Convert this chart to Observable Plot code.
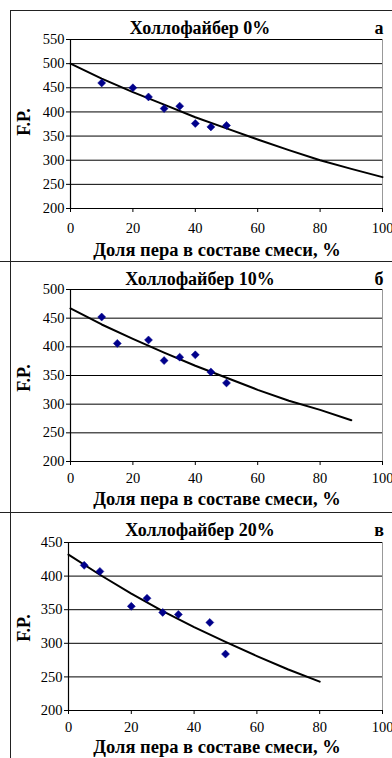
<!DOCTYPE html>
<html>
<head>
<meta charset="utf-8">
<script src="https://cdn.jsdelivr.net/npm/d3@7"></script>
<script src="https://cdn.jsdelivr.net/npm/@observablehq/plot@0.6"></script>
<style>
  html, body { margin: 0; padding: 0; background: #fff; }
  body { width: 392px; height: 758px; position: relative; overflow: hidden; font-family: "Liberation Serif", Tinos, "Times New Roman", Times, "DejaVu Serif", serif; }
  .abs { position: absolute; line-height: 1; }
  .title { font-weight: bold; font-size: 18px; white-space: nowrap; transform: translate(-50%, -50%); }
  .letter { font-weight: bold; font-size: 18px; transform: translate(-50%, -50%); }
  .xlab { font-weight: bold; font-size: 18.5px; white-space: nowrap; transform: translate(-50%, -50%); }
  .ylab { font-weight: bold; font-size: 18px; white-space: nowrap; transform: translate(-50%, -50%) rotate(-90deg); }
  .hline { position: absolute; left: 0; width: 392px; height: 0; border-top: 1.5px solid #222; }
  .vline { position: absolute; width: 0; border-left: 1.5px solid #222; }
  svg { position: absolute; left: 0; }
  svg text { font-family: "Liberation Serif", Tinos, "Times New Roman", Times, "DejaVu Serif", serif; }
</style>
</head>
<body>
<script>
// Panel titles and letters
const panelTitles = ["Холлофайбер 0%", "Холлофайбер 10%", "Холлофайбер 20%"];
const panelLetters = ["а", "б", "в"];
const xTitle = "Доля пера в составе смеси, %";
const yTitle = "F.P.";

// X ticks (shared)
const xTicks = [0, 20, 40, 60, 80, 100];

// Panel а (0%)
const yTicksA = [200, 250, 300, 350, 400, 450, 500, 550];
const pointsXA = [10, 20, 25, 30, 35, 40, 45, 50];
const pointsYA = [460, 450, 431, 407, 412, 376, 369, 372];
const trendXA = [0, 10, 20, 30, 40, 50, 60, 70, 80, 90, 100];
const trendYA = [500, 469, 441, 415, 389, 366, 343, 321, 300, 282, 265];

// Panel б (10%)
const yTicksB = [200, 250, 300, 350, 400, 450, 500];
const pointsXB = [10, 15, 25, 30, 35, 40, 45, 50];
const pointsYB = [452, 406, 412, 376, 382, 386, 356, 337];
const trendXB = [0, 10, 20, 30, 40, 50, 60, 70, 80, 90];
const trendYB = [467, 439, 414, 390, 367, 346, 325, 306, 290, 272];

// Panel в (20%)
const yTicksC = [200, 250, 300, 350, 400, 450];
const pointsXC = [5, 10, 20, 25, 30, 35, 45, 50];
const pointsYC = [416, 407, 355, 367, 346, 343, 331, 284];
const trendXC = [0, 10, 20, 30, 40, 50, 60, 70, 80];
const trendYC = [432, 402, 374, 348, 324, 302, 281, 261, 243];

const FONT = "'Liberation Serif', Tinos, 'Times New Roman', Times, 'DejaVu Serif', serif";

const panels = [
  { top: 0,   height: 261, mt: 39, mb: 53, ml: 70, yTicks: yTicksA, px: pointsXA, py: pointsYA, tx: trendXA, ty: trendYA,
    titleY: 28, xlabY: 250, ylabY: 122, pad: 10 },
  { top: 261, height: 251, mt: 28, mb: 51, ml: 70, yTicks: yTicksB, px: pointsXB, py: pointsYB, tx: trendXB, ty: trendYB,
    titleY: 279, xlabY: 499, ylabY: 378, pad: 7 },
  { top: 512, height: 246, mt: 30, mb: 48, ml: 68, yTicks: yTicksC, px: pointsXC, py: pointsYC, tx: trendXC, ty: trendYC,
    titleY: 530, xlabY: 747, ylabY: 628, pad: 7 }
];

panels.forEach((p, i) => {
  const pts = p.px.map((x, k) => ({ x, y: p.py[k] }));
  const trend = p.tx.map((x, k) => ({ x, y: p.ty[k] }));
  const yMin = p.yTicks[0], yMax = p.yTicks[p.yTicks.length - 1];
  const chart = Plot.plot({
    width: 392,
    height: p.height,
    marginLeft: p.ml,
    marginRight: 10,
    marginTop: p.mt,
    marginBottom: p.mb,
    style: { fontFamily: FONT, fontSize: "14.5px", color: "#000", background: "transparent", overflow: "visible" },
    x: { domain: [0, 100], label: null },
    y: { domain: [yMin, yMax], label: null },
    marks: [
      Plot.frame({ stroke: "#999", strokeWidth: 1 }),
      Plot.gridY(p.yTicks.filter(t => t > yMin), { stroke: "#000", strokeOpacity: 1, strokeWidth: 1 }),
      Plot.axisY(p.yTicks, { tickSize: 4, tickPadding: 2, label: null, fontSize: 14.5 }),
      Plot.axisX(xTicks, { tickSize: 4, tickPadding: p.pad, label: null, fontSize: 14.5 }),
      Plot.ruleX([0], { stroke: "#000", strokeWidth: 1.2 }),
      Plot.ruleY([yMin], { stroke: "#000", strokeWidth: 1.2 }),
      Plot.line(trend, { x: "x", y: "y", stroke: "#000", strokeWidth: 2 }),
      Plot.dot(pts, { x: "x", y: "y", symbol: "diamond2", fill: "#00008b", stroke: "#00008b", strokeWidth: 0.5, r: 3.6 })
    ]
  });
  chart.style.top = p.top + "px";
  document.body.appendChild(chart);

  const t = document.createElement("div");
  t.className = "abs title"; t.textContent = panelTitles[i];
  t.style.left = "200px"; t.style.top = p.titleY + "px";
  document.body.appendChild(t);

  const l = document.createElement("div");
  l.className = "abs letter"; l.textContent = panelLetters[i];
  l.style.left = "379px"; l.style.top = p.titleY + "px";
  document.body.appendChild(l);

  const xl = document.createElement("div");
  xl.className = "abs xlab"; xl.textContent = xTitle;
  xl.style.left = "217px"; xl.style.top = p.xlabY + "px";
  document.body.appendChild(xl);

  const yl = document.createElement("div");
  yl.className = "abs ylab"; yl.textContent = yTitle;
  yl.style.left = "24px"; yl.style.top = p.ylabY + "px";
  document.body.appendChild(yl);
});

// Panel borders
[[10, 11], [261, 0], [512, 0]].forEach(([y, x0]) => {
  const h = document.createElement("div");
  h.className = "hline"; h.style.top = y + "px"; h.style.left = x0 + "px"; h.style.width = (392 - x0) + "px";
  document.body.appendChild(h);
});
const v = document.createElement("div");
v.className = "vline"; v.style.left = "10px"; v.style.top = "10px"; v.style.height = "748px";
document.body.appendChild(v);
</script>
</body>
</html>
